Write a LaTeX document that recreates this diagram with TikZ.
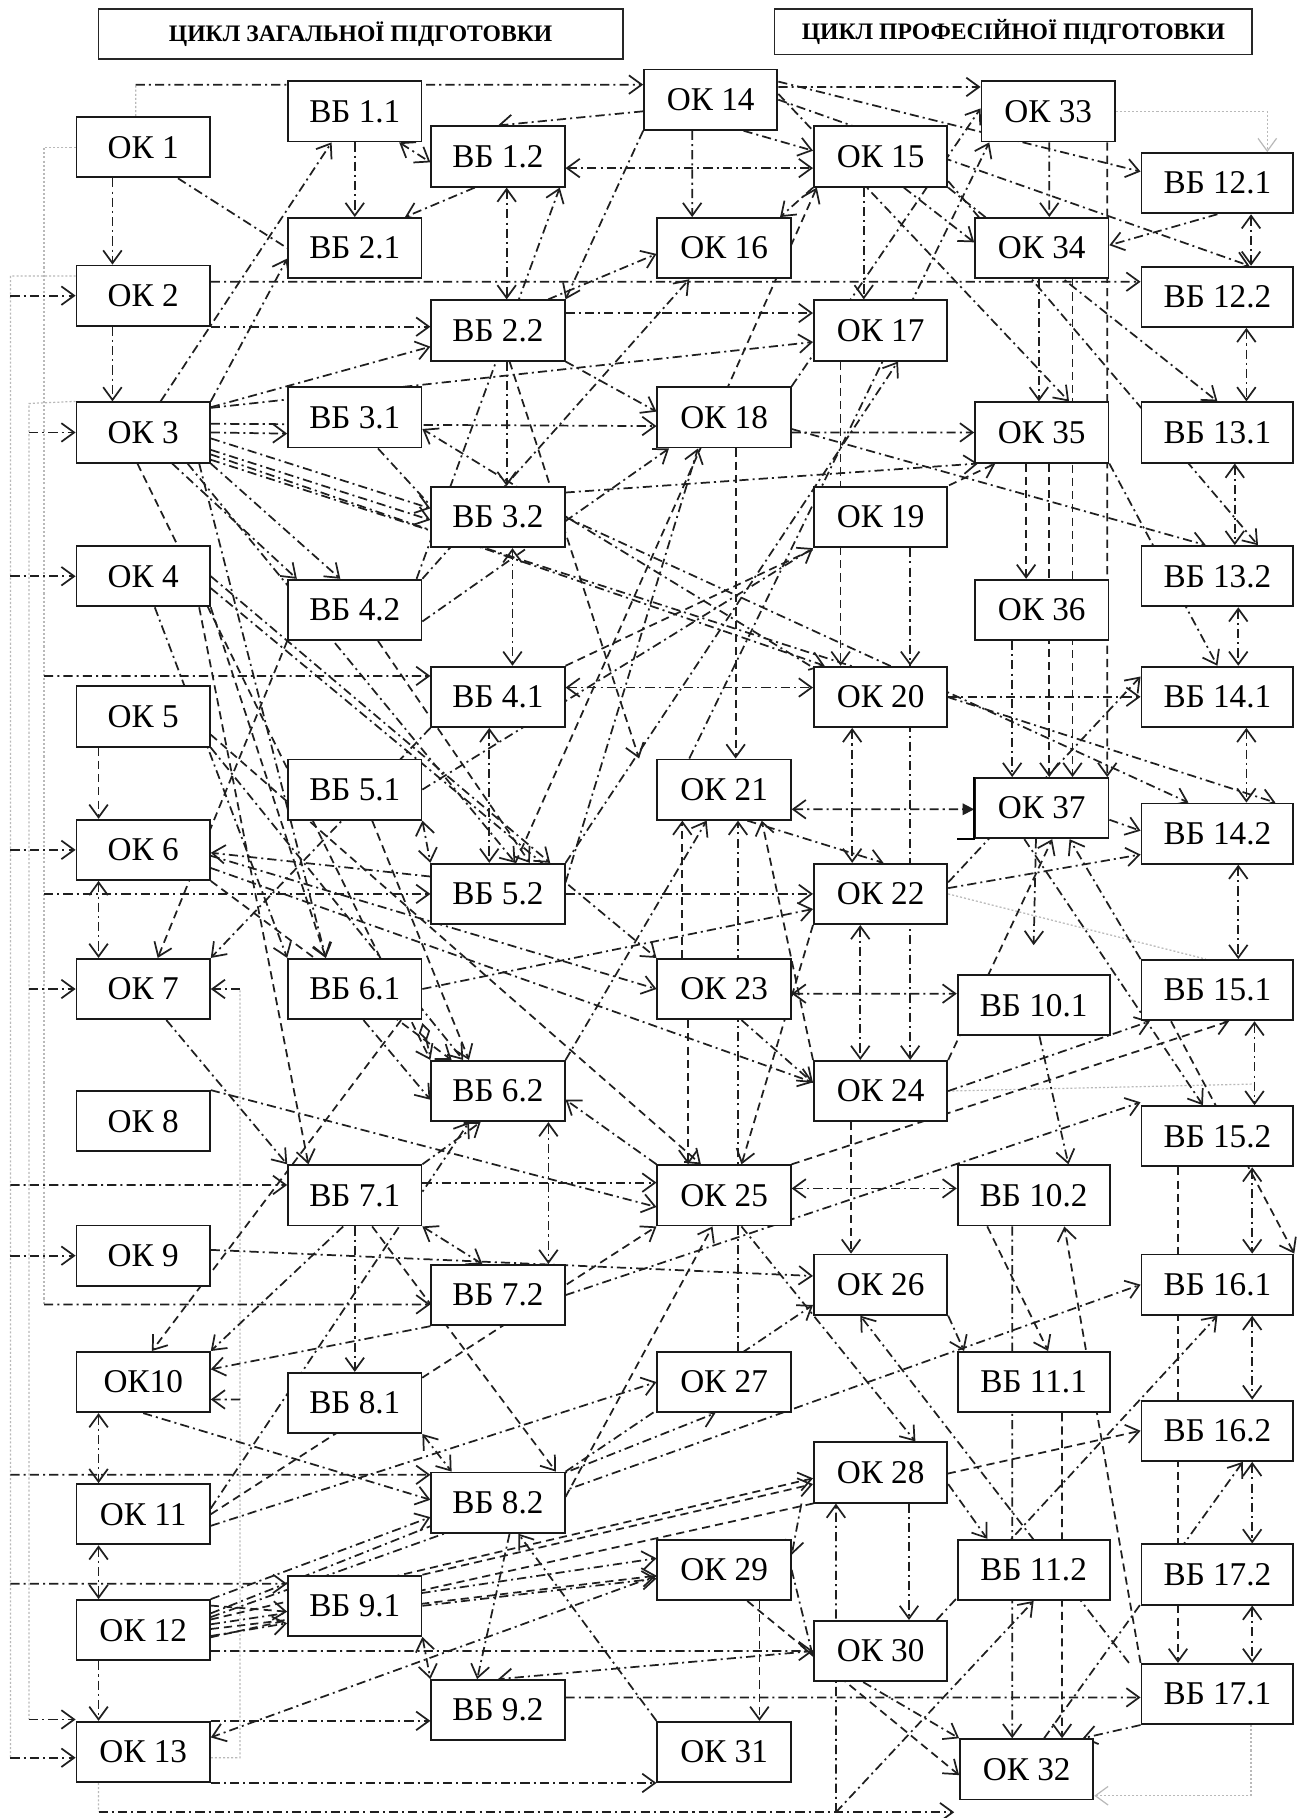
\documentclass[tikz,border=0pt]{standalone}
\usepackage{fontspec}
\setmainfont{Liberation Serif}
\usetikzlibrary{arrows.meta,calc,backgrounds}

\begin{document}
\begin{tikzpicture}[
    x=0.2mm, y=-0.2mm,
    >={Straight Barb[length=2.2mm,width=3.2mm]},
    box/.style={draw=black!90, line width=0.9pt, fill=white, minimum width=23mm,
                minimum height=10.4mm, inner sep=0pt, font=\fontsize{16.3}{18}\selectfont},
    wbox/.style={box, minimum width=26.2mm},
    head/.style={draw=black!85, line width=0.9pt, inner sep=0pt,
                 font=\fontsize{11.6}{13}\selectfont\bfseries},
    lk/.style={->, black!88, line width=0.85pt, dash pattern=on 4.5pt off 2pt on 1pt off 2pt},
    lkb/.style={lk, <->},
    lkn/.style={lk, -},
    dk/.style={lk, dash pattern=on 4pt off 2.5pt},
    dkb/.style={dk, <->},
    gk/.style={gray!55, line width=0.6pt, dash pattern=on 1pt off 1pt},
    gka/.style={gk, ->},
]
    \useasboundingbox (0,0) rectangle (1120,1568);

    % ============================================================
    %  HEADERS
    % ============================================================
    \node[head, minimum width=90.4mm, minimum height=8.6mm] (hz) at (311,29.5)
        {ЦИКЛ ЗАГАЛЬНОЇ ПІДГОТОВКИ};
    \node[head, minimum width=82.4mm, minimum height=7.8mm] (hp) at (874,27.5)
        {ЦИКЛ ПРОФЕСІЙНОЇ ПІДГОТОВКИ};

    % ============================================================
    %  NODES
    % ============================================================
    % column 1
    \node[box] (ok1)  at (123.5,127)  {ОК 1};
    \node[box] (ok2)  at (123.5,255)  {ОК 2};
    \node[box] (ok3)  at (123.5,373)  {ОК 3};
    \node[box] (ok4)  at (123.5,497)  {ОК 4};
    \node[box] (ok5)  at (123.5,618)  {ОК 5};
    \node[box] (ok6)  at (123.5,733)  {ОК 6};
    \node[box] (ok7)  at (123.5,853)  {ОК 7};
    \node[box] (ok8)  at (123.5,967)  {ОК 8};
    \node[box] (ok9)  at (123.5,1083) {ОК 9};
    \node[box] (ok10) at (123.5,1192) {ОК10};
    \node[box] (ok11) at (123.5,1306) {ОК 11};
    \node[box] (ok12) at (123.5,1406) {ОК 12};
    \node[box] (ok13) at (123.5,1511) {ОК 13};
    % column 2
    \node[box] (vb11) at (306,96)   {ВБ 1.1};
    \node[box] (vb21) at (306,214)  {ВБ 2.1};
    \node[box] (vb31) at (306,360)  {ВБ 3.1};
    \node[box] (vb42) at (306,526)  {ВБ 4.2};
    \node[box] (vb51) at (306,681)  {ВБ 5.1};
    \node[box] (vb61) at (306,853)  {ВБ 6.1};
    \node[box] (vb71) at (306,1031) {ВБ 7.1};
    \node[box] (vb81) at (306,1210) {ВБ 8.1};
    \node[box] (vb91) at (306,1385) {ВБ 9.1};
    % column 3
    \node[box] (vb12) at (429.5,135)  {ВБ 1.2};
    \node[box] (vb22) at (429.5,285)  {ВБ 2.2};
    \node[box] (vb32) at (429.5,446)  {ВБ 3.2};
    \node[box] (vb41) at (429.5,601)  {ВБ 4.1};
    \node[box] (vb52) at (429.5,771)  {ВБ 5.2};
    \node[box] (vb62) at (429.5,941)  {ВБ 6.2};
    \node[box] (vb72) at (429.5,1117) {ВБ 7.2};
    \node[box] (vb82) at (429.5,1296) {ВБ 8.2};
    \node[box] (vb92) at (429.5,1475) {ВБ 9.2};
    % column 4
    \node[box] (ok14) at (613,86)     {ОК 14};
    \node[box] (ok16) at (624.5,214)  {ОК 16};
    \node[box] (ok18) at (624.5,360)  {ОК 18};
    \node[box] (ok21) at (624.5,681)  {ОК 21};
    \node[box] (ok23) at (624.5,853)  {ОК 23};
    \node[box] (ok25) at (624.5,1031) {ОК 25};
    \node[box] (ok27) at (624.5,1192) {ОК 27};
    \node[box] (ok29) at (624.5,1354) {ОК 29};
    \node[box] (ok31) at (624.5,1511) {ОК 31};
    % column 5
    \node[box] (ok15) at (759.5,135)  {ОК 15};
    \node[box] (ok17) at (759.5,285)  {ОК 17};
    \node[box] (ok19) at (759.5,446)  {ОК 19};
    \node[box] (ok20) at (759.5,601)  {ОК 20};
    \node[box] (ok22) at (759.5,771)  {ОК 22};
    \node[box] (ok24) at (759.5,941)  {ОК 24};
    \node[box] (ok26) at (759.5,1108) {ОК 26};
    \node[box] (ok28) at (759.5,1270) {ОК 28};
    \node[box] (ok30) at (759.5,1424) {ОК 30};
    % column 6
    \node[box]  (ok33)  at (904,96)     {ОК 33};
    \node[box]  (ok34)  at (898.5,214)  {ОК 34};
    \node[box]  (ok35)  at (898.5,373)  {ОК 35};
    \node[box]  (ok36)  at (898.5,526)  {ОК 36};
    \node[box]  (ok37)  at (898.5,697)  {ОК 37};
    \node[wbox] (vb101) at (891.5,867)  {ВБ 10.1};
    \node[wbox] (vb102) at (891.5,1031) {ВБ 10.2};
    \node[wbox] (vb111) at (891.5,1192) {ВБ 11.1};
    \node[wbox] (vb112) at (891.5,1354) {ВБ 11.2};
    \node[box]  (ok32)  at (885.5,1526) {ОК 32};
    % column 7
    \node[wbox] (vb121) at (1050,158)  {ВБ 12.1};
    \node[wbox] (vb122) at (1050,256)  {ВБ 12.2};
    \node[wbox] (vb131) at (1050,373)  {ВБ 13.1};
    \node[wbox] (vb132) at (1050,497)  {ВБ 13.2};
    \node[wbox] (vb141) at (1050,601)  {ВБ 14.1};
    \node[wbox] (vb142) at (1050,719)  {ВБ 14.2};
    \node[wbox] (vb151) at (1050,854)  {ВБ 15.1};
    \node[wbox] (vb152) at (1050,980)  {ВБ 15.2};
    \node[wbox] (vb161) at (1050,1108) {ВБ 16.1};
    \node[wbox] (vb162) at (1050,1234) {ВБ 16.2};
    \node[wbox] (vb172) at (1050,1358) {ВБ 17.2};
    \node[wbox] (vb171) at (1050,1461) {ВБ 17.1};

    \draw[line width=1.2pt] (ok37.north west) -- (ok37.south west) -- ++(-15,0);

    % rail and junction points
    \coordinate (ra1) at (9,238);   \coordinate (ra2) at (9,1516);
    \coordinate (rb1) at (25,348);  \coordinate (rb2) at (25,1483);
    \coordinate (rc1) at (38,127);  \coordinate (rc2) at (38,1125);
    \coordinate (rd1) at (207,1516); \coordinate (rd2) at (207,853);
    \coordinate (rd3) at (207,1207);
    \coordinate (s2) at (9,255);   \coordinate (s3) at (25,373);
    \coordinate (s4) at (9,497);   \coordinate (s6) at (9,733);
    \coordinate (s7) at (25,853);  \coordinate (s9) at (9,1083);
    \coordinate (s41) at (38,583); \coordinate (s52) at (38,771);
    \coordinate (s71) at (9,1022); \coordinate (s82) at (9,1272);
    \coordinate (s91) at (9,1366);
    \coordinate (tc) at (117,73);
    \coordinate (bl) at (85,1563); \coordinate (bj) at (721,1563);
    \coordinate (be) at (823,1563);
    \coordinate (gj) at (1080,935);

    \begin{scope}[on background layer]
    \fill[white] (0,0) rectangle (1120,1568);

    % ============================================================
    %  FRAME LINES (grey dotted rails on the left, side routes)
    % ============================================================
    \draw[gk] ([yshift=3.4mm]ok2.west) -- (ra1) -- (ra2);
    \draw[gk] (ok3.north west) -- (rb1) -- (rb2);
    \draw[gk] (ok1.west) -- (rc1) -- (rc2);
    \draw[gk] ([yshift=-1mm]ok13.east) -- (rd1) -- (rd2);
    \draw[lk] (rd2) -- (ok7.east);
    \draw[lk] (rd3) -- ([yshift=-3mm]ok10.east);
    \draw[lk] (ra2) -- (ra2 -| ok13.west);
    \draw[lk] (rb2) -- (rb2 -| ok13.west);

    \draw[lk] (s2) -- (ok2.west);
    \draw[lk] (s3) -- (ok3.west);
    \draw[lk] (s4) -- (ok4.west);
    \draw[lk] (s6) -- (ok6.west);
    \draw[lk] (s7) -- (ok7.west);
    \draw[lk] (s9) -- (ok9.west);
    \draw[lk] (s41) -- ([yshift=3.6mm]vb41.west);
    \draw[lk] (s52) -- (vb52.west);
    \draw[lk] (s71) -- ([yshift=1.8mm]vb71.west);
    \draw[lk] (rc2) -- ([yshift=-1.6mm]vb72.west);
    \draw[lk] (s82) -- ([yshift=4.8mm]vb82.west);
    \draw[lk] (s91) -- ([yshift=3.8mm]vb91.west);

    \draw[gk] ([xshift=-1.3mm]ok1.north) -- (tc);
    \draw[lk] (tc) -- ([yshift=2.6mm]ok14.west);
    \draw[gk] ([xshift=-7.7mm]ok13.south) -- (bl);
    \draw[lk] (bl) -- (be);
    \draw[lk] (bj) -- ([xshift=-7.7mm]ok28.south);
    \draw[lk] (bj) -- (vb112.south);
    \draw[gka] ([xshift=5.8mm]vb171.south) |- ([yshift=0.8mm]ok32.south east);
    \draw[gka] (ok33.east) -| ([xshift=8.6mm]vb121.north);
    \draw[gk] (ok22.east) -- ([xshift=-2mm]vb151.north);
    \draw[gk] (ok24.east) -- (gj);

    % ============================================================
    %  VERTICAL LINKS
    % ============================================================
    \draw[lk]  ([xshift=-5.3mm]ok1.south) -- ([xshift=-5.3mm]ok2.north);
    \draw[lk]  ([xshift=-5.3mm]ok2.south) -- ([xshift=-5.3mm]ok3.north);
    \draw[dk]  ([xshift=-7.7mm]ok5.south) -- ([xshift=-7.7mm]ok6.north);
    \draw[lkb] ([xshift=-7.7mm]ok6.south) -- ([xshift=-7.7mm]ok7.north);
    \draw[lkb] ([xshift=-7.7mm]ok10.south) -- ([xshift=-7.7mm]ok11.north);
    \draw[lkb] ([xshift=-7.7mm]ok11.south) -- ([xshift=-7.7mm]ok12.north);
    \draw[lk]  ([xshift=-7.7mm]ok12.south) -- ([xshift=-7.7mm]ok13.north);

    \draw[lk]  (vb11.south) -- (vb21.north);
    \draw[lk]  (vb71.south) -- (vb81.north);
    \draw[lkb] ([xshift=1.5mm]vb12.south) -- ([xshift=1.5mm]vb22.north);
    \draw[lk]  ([xshift=1.5mm]vb22.south) -- ([xshift=1.5mm]vb32.north);
    \draw[lkb] ([xshift=2.5mm]vb32.south) -- ([xshift=2.5mm]vb41.north);
    \draw[lkb] ([xshift=-1.5mm]vb41.south) -- ([xshift=-1.5mm]vb52.north);
    \draw[lkb] ([xshift=8.7mm]vb62.south) -- ([xshift=8.7mm]vb72.north);

    \draw[lk]  ([xshift=-3.2mm]ok14.south) -- ([xshift=-5.5mm]ok16.north);
    \draw[lk]  ([xshift=-2.9mm]ok15.south) -- ([xshift=-2.9mm]ok17.north);
    \draw[dk]  ([xshift=-6.9mm]ok17.south) -- ([xshift=-6.9mm]ok20.north);
    \draw[lk]  ([xshift=5.1mm]ok19.south) -- ([xshift=5.1mm]ok20.north);
    \draw[lk]  ([xshift=5.1mm]ok19.south) -- ([xshift=5.1mm]ok24.north);
    \draw[dk]  ([xshift=2mm]ok18.south) -- ([xshift=2mm]ok21.north);
    \draw[lk]  ([xshift=2.4mm]ok27.north) -- ([xshift=2.4mm]ok21.south);
    \draw[dk]  ([xshift=-7.2mm]ok23.north) -- ([xshift=-7.2mm]ok21.south);
    \draw[dk]  ([xshift=-6.2mm]ok23.south) -- ([xshift=-6.2mm]ok25.north);
    \draw[lkb] ([xshift=-4.9mm]ok20.south) -- ([xshift=-4.9mm]ok22.north);
    \draw[lkb] ([xshift=-3.5mm]ok22.south) -- ([xshift=-3.5mm]ok24.north);
    \draw[dk]  ([xshift=-5.1mm]ok24.south) -- ([xshift=-5.1mm]ok26.north);
    \draw[lk]  ([xshift=4.9mm]ok28.south) -- ([xshift=4.9mm]ok30.north);
    \draw[dk]  ([xshift=6.1mm]ok29.south) -- ([xshift=6.1mm]ok31.north);

    \draw[lk]  ([xshift=0.2mm]ok33.south) -- ([xshift=1.3mm]ok34.north);
    \draw[dk]  ([xshift=10.2mm]ok33.south) -- ([xshift=11.3mm]ok37.north);
    \draw[lk]  ([xshift=-0.5mm]ok34.south) -- ([xshift=-0.5mm]ok35.north);
    \draw[dk]  ([xshift=5.3mm]ok34.south) -- ([xshift=5.3mm]ok37.north);
    \draw[dk]  ([xshift=-2.7mm]ok35.south) -- ([xshift=-2.7mm]ok36.north);
    \draw[dk]  ([xshift=1.3mm]ok35.south) -- ([xshift=1.3mm]ok37.north);
    \draw[lk]  ([xshift=-5.1mm]ok36.south) -- ([xshift=-5.1mm]ok37.north);
    \draw[lk]  ([xshift=-3.7mm]vb102.south) -- ([xshift=-2.5mm]ok32.north);
    \draw[dk]  ([xshift=4.9mm]vb111.south) -- ([xshift=6.1mm]ok32.north);
    \draw[lk]  ([xshift=1mm]vb101.south) -- ([xshift=6mm]vb102.north);
    \draw[dk]  ([xshift=-6.8mm]vb152.south) -- ([xshift=-6.8mm]vb171.north);

    \draw[lkb] ([xshift=5.8mm]vb121.south) -- ([xshift=5.8mm]vb122.north);
    \draw[lkb] ([xshift=5mm]vb122.south) -- ([xshift=5mm]vb131.north);
    \draw[lkb] ([xshift=3mm]vb131.south) -- ([xshift=3mm]vb132.north);
    \draw[lkb] ([xshift=3.6mm]vb132.south) -- ([xshift=3.6mm]vb141.north);
    \draw[lkb] ([xshift=5mm]vb141.south) -- ([xshift=5mm]vb142.north);
    \draw[lkb] ([xshift=3.6mm]vb142.south) -- ([xshift=3.6mm]vb151.north);
    \draw[lkb] ([xshift=6.4mm]vb151.south) -- ([xshift=6.4mm]vb152.north);
    \draw[lkb] ([xshift=6mm]vb152.south) -- ([xshift=6mm]vb161.north);
    \draw[lkb] ([xshift=6mm]vb161.south) -- ([xshift=6mm]vb162.north);
    \draw[lkb] ([xshift=6mm]vb162.south) -- ([xshift=6mm]vb172.north);
    \draw[lkb] ([xshift=6mm]vb172.south) -- ([xshift=6mm]vb171.north);

    % ============================================================
    %  HORIZONTAL LINKS
    % ============================================================
    \draw[lk]  ([yshift=2.2mm]ok14.east) -- ([yshift=4.2mm]ok33.west);
    \draw[lkb] ([yshift=-2mm]vb12.east) -- ([yshift=-2mm]ok15.west);
    \draw[lk]  ([yshift=2.4mm]ok2.east) -- ([yshift=2.6mm]vb122.west);
    \draw[lk]  (ok2.south east) -- (ok2.south east -| vb22.west);
    \draw[lk]  ([yshift=3mm]vb22.east) -- ([yshift=3mm]ok17.west);
    \draw[lk]  (ok3.east) -- ([yshift=-2.8mm]vb31.west);
    \draw[lk]  ([yshift=-2.6mm]ok18.east) -- (ok35.west);
    \draw[lkb] ([yshift=1.6mm]vb41.east) -- ([yshift=1.6mm]ok20.west);
    \draw[lk]  (vb52.east) -- (ok22.west);
    \draw[lkb, {Straight Barb[length=2.2mm,width=3.2mm]}-{Triangle[length=2mm,width=2mm]}]
        ([yshift=-3.4mm]ok21.east) -- ([yshift=-0.2mm]ok37.west);
    \draw[lkb] ([yshift=-0.8mm]ok23.east) -- ([yshift=2mm]vb101.west);
    \draw[lkb] ([yshift=1.2mm]ok25.east) -- ([yshift=1.2mm]vb102.west);
    \draw[lk]  ([yshift=2.2mm]vb71.east) -- ([yshift=2.2mm]ok25.west);
    \draw[lk]  (ok13.north east) -- (ok13.north east -| vb92.west);
    \draw[lk]  (ok13.south east) -- (ok31.south west);
    \draw[lk]  ([yshift=2.2mm]vb92.east) -- ([yshift=-0.6mm]vb171.west);
    \draw[lk]  ([yshift=-3.6mm]ok12.east) -- (ok30.west);
    \draw[lk]  (ok20.east) -- (vb141.west);

    % ============================================================
    %  DIAGONAL LINKS
    % ============================================================
    % top rows
    \draw[lk]  ([yshift=-2mm]ok14.west) -- (vb12.north);
    \draw[lkb] ([xshift=-4mm]vb11.south east) -- ([yshift=-1mm]vb12.west);
    \draw[lkn] ([xshift=6mm]ok1.south) -- (vb21.west);
    \draw[lk]  ([xshift=-4mm]vb12.south) -- ([xshift=-3mm]vb21.north east);
    \draw[lk]  ([xshift=-1mm]vb42.north east) -- ([xshift=-1mm]vb12.south east);
    \draw[lk]  ([xshift=-6mm]ok14.south east) -- ([yshift=1mm]ok15.west);
    \draw[lk]  (ok15.south west) -- ([xshift=-2mm]ok16.north east);
    \draw[lk]  (ok14.15) -- ([yshift=2mm]vb121.west);
    \draw[lk]  (ok14.east) -- ([xshift=5.5mm]vb122.north);
    \draw[lk]  ([yshift=1mm]ok14.east) -- ([xshift=4.7mm]ok35.north);
    \draw[lk]  (ok14.south west) -- (vb22.north east);
    \draw[lk]  (vb121.south) -- ([yshift=0.5mm]ok34.east);
    \draw[lk]  ([xshift=4mm]ok15.south) -- ([yshift=1mm]ok34.west);
    \draw[lk]  (ok15.south east) -- (vb131.north);
    \draw[lk]  (ok15.-20) -- ([xshift=7mm]vb132.north);
    \draw[lk]  ([xshift=-6mm]ok21.north) -- ([xshift=1.5mm]ok33.south west);
    \draw[lk]  (ok18.north east) -- ([yshift=0.5mm]ok33.west);

    % from OK 3
    \draw[lk]  ([xshift=3mm]ok3.north) -- ([xshift=-4mm]vb11.south);
    \draw[lk]  (ok3.north east) -- ([yshift=-1.8mm]vb21.west);
    \draw[lk]  ([yshift=-1mm]ok3.north east) -- ([yshift=-2.8mm]vb22.west);
    \draw[lk]  (ok3.20) -- ([yshift=-2mm]ok17.west);
    \draw[lk]  ([yshift=1.5mm]ok3.east) -- ([yshift=-1.5mm]ok18.west);
    \draw[lk]  (ok3.-5) -- ([yshift=1.5mm]vb32.west);
    \draw[lk]  ([yshift=-3mm]ok3.east) -- ([yshift=-0.5mm]vb32.west);
    \draw[lk]  ([xshift=5mm]ok3.south) -- ([xshift=-10mm]vb42.north);
    \draw[lk]  (ok3.south east) -- ([xshift=-2.5mm]vb42.north);
    \draw[lk]  (ok3.-18) -- ([xshift=2mm]ok20.north west);
    \draw[lk]  (ok3.-22) -- ([xshift=10mm]vb142.north);
    \draw[lk]  ([xshift=-2mm]ok3.south east) -- ([xshift=-5mm]vb61.north);
    \draw[lk]  ([xshift=-4mm]ok3.south east) -- ([xshift=3mm]vb52.north);
    \draw[dk]  ([xshift=-1mm]ok3.south) -- (vb62.north west);

    % OK 4 .. OK 9
    \draw[lk]  (ok4.east) -- ([xshift=9mm]vb52.north);
    \draw[dk]  (ok4.south east) -- ([xshift=-5mm]vb61.north);
    \draw[lk]  ([xshift=2mm]ok4.south) -- (vb61.north west);
    \draw[dk]  ([xshift=-2mm]ok4.south east) -- ([xshift=-8mm]vb71.north);
    \draw[lk]  (ok4.-10) -- (ok23.north west);
    \draw[lk]  (ok5.south east) -- ([xshift=-6mm]vb62.north);
    \draw[dk]  (ok5.-15) -- ([xshift=-4mm]ok25.north);
    \draw[lk]  ([yshift=3mm]vb52.west) -- ([yshift=-0.5mm]ok6.east);
    \draw[lk]  (ok6.-15) -- ([yshift=1.5mm]ok24.west);
    \draw[dk]  (ok6.south east) -- ([xshift=-8mm]vb62.north);
    \draw[lk]  (ok6.-5) -- (ok23.west);
    \draw[dk]  (vb42.south west) -- ([xshift=2.5mm]ok7.north);
    \draw[lk]  (vb41.south west) -- (ok7.north east);
    \draw[lk]  ([xshift=4mm]ok7.south) -- (vb71.north west);
    \draw[lk]  (ok8.north east) -- ([yshift=-2mm]ok25.west);
    \draw[lk]  ([yshift=1mm]ok9.east) -- ([yshift=1.5mm]ok26.west);

    % OK 10 .. OK 13
    \draw[dk]  ([xshift=8mm]vb61.south) -- ([xshift=1.5mm]ok10.north);
    \draw[lk]  ([xshift=-2mm]vb71.south) -- (ok10.north east);
    \draw[lk]  (vb72.south west) -- ([yshift=2.2mm]ok10.east);
    \draw[lk]  (ok10.south) -- ([yshift=0.5mm]vb82.west);
    \draw[lk]  ([yshift=1mm]ok11.east) -- ([xshift=-5mm]vb62.south);
    \draw[dk]  (ok11.east) -- (ok25.south west);
    \draw[lk]  ([yshift=-2mm]ok11.east) -- (ok27.west);
    \draw[lk]  (ok12.north east) -- ([yshift=-2.5mm]vb82.west);
    \draw[dk]  (ok12.20) -- ([yshift=-1mm]vb91.west);
    \draw[lk]  ([yshift=-1mm]ok12.east) -- ([yshift=-3mm]vb91.west);
    \draw[lk]  (ok12.14) -- ([xshift=-1.5mm]ok27.south);
    \draw[dk]  (ok12.9) -- ([yshift=-1mm]ok28.west);
    \draw[lk]  (ok12.5) -- ([yshift=2mm]ok29.west);
    \draw[dk]  (ok12.1) -- ([yshift=-1mm]ok29.west);
    \draw[lk]  (ok12.11) -- (vb161.west);
    \draw[dk]  (ok12.-6) -- (vb162.west);
    \draw[lk]  ([yshift=-1mm]ok29.west) -- ([yshift=2.5mm]ok13.east);

    % column 2 / 3 internals
    \draw[lkn] ([xshift=4mm]vb31.south) -- ([yshift=2mm]vb32.west);
    \draw[lk]  ([xshift=-0.5mm]ok20.north west) -- ([yshift=-2mm]vb31.east);
    \draw[lk]  (vb42.north east) -- ([xshift=-6mm]ok16.south);
    \draw[lk]  ([yshift=-2mm]vb42.east) -- ([xshift=-9.5mm]ok18.south);
    \draw[dk]  ([xshift=4mm]vb42.south) -- ([xshift=5.5mm]vb52.north);
    \draw[lkb] (vb51.south east) -- (vb52.north west);
    \draw[dk]  ([xshift=3mm]vb51.south) -- ([xshift=-5mm]vb62.north);
    \draw[lk]  (vb51.east) -- (ok19.south west);
    \draw[lk]  ([yshift=2mm]vb52.east) -- ([xshift=-4.5mm]ok18.south);
    \draw[dk]  ([xshift=3mm]vb52.north) -- ([xshift=-11mm]ok15.south);
    \draw[lk]  (vb52.north east) -- ([xshift=3mm]ok17.south);
    \draw[lk]  ([xshift=1.5mm]vb61.south) -- ([yshift=-1.5mm]vb62.west);
    \draw[lkn, {Diamond[open,length=3.2mm,width=2mm]}-]
        ([yshift=-0.5mm]vb61.south east) -- ([yshift=0.5mm]vb62.north west);
    \draw[lk]  (vb61.east) -- ([yshift=-2.6mm]ok22.west);
    \draw[lk]  (vb71.north east) -- ([xshift=-3mm]vb62.south);
    \draw[lk]  (ok25.north west) -- ([yshift=-1.5mm]vb62.east);
    \draw[lkb] (vb71.south east) -- ([xshift=-2.7mm]vb72.north);
    \draw[lkb] (vb81.south east) -- ([xshift=-8mm]vb82.north);
    \draw[dk]  ([xshift=3mm]vb71.south) -- ([xshift=10mm]vb82.north);
    \draw[lk]  ([xshift=2mm]vb82.south) -- ([xshift=-3.6mm]vb92.north);
    \draw[lk]  (ok31.north west) -- ([xshift=3.5mm]vb82.south);
    \draw[lkb] (vb91.south east) -- (vb92.north west);
    \draw[lk]  (ok30.west) -- (vb92.north);
    \draw[lk]  (vb91.east) -- ([yshift=-1.5mm]ok29.west);
    \draw[dk]  (vb91.north east) -- ([yshift=-2mm]ok28.west);
    \draw[lk]  (vb82.north east) -- ([yshift=-3.5mm]ok26.west);
    \draw[dk]  ([yshift=1mm]vb82.east) -- ([xshift=-2mm]ok25.south);

    % column 4 / 5 internals
    \draw[lk]  ([xshift=-3mm]vb22.north east) -- ([yshift=-1mm]ok16.west);
    \draw[lk]  (vb22.south east) -- ([yshift=1mm]ok18.west);
    \draw[dk]  ([xshift=2mm]vb22.south) -- ([xshift=-3mm]ok21.north west);
    \draw[lk]  ([yshift=-2mm]ok18.east) -- ([xshift=-2mm]vb132.north);
    \draw[lk]  (vb32.20) -- ([xshift=-11mm]ok35.south);
    \draw[dk]  (vb41.north east) -- ([xshift=-8mm]ok35.south);
    \draw[lk]  (vb32.east) -- ([xshift=-5mm]vb142.north);
    \draw[lk]  ([xshift=4mm]ok21.south) -- ([xshift=0.5mm]ok22.north);
    \draw[lk]  (vb62.north east) -- ([xshift=-3mm]ok21.south);
    \draw[dk]  (ok24.north west) -- ([xshift=6.5mm]ok21.south);
    \draw[lk]  ([xshift=3mm]ok23.south) -- ([yshift=1.4mm]ok24.west);
    \draw[dk]  (ok22.south west) -- ([xshift=3mm]ok25.north);
    \draw[lk]  ([xshift=3mm]ok25.south) -- ([xshift=6mm]ok28.north);
    \draw[lk]  (ok26.south east) -- ([xshift=-12mm]vb111.north);
    \draw[dk]  ([xshift=-8mm]vb102.south) -- ([xshift=2.5mm]vb111.north);
    \draw[lk]  ([yshift=-2mm]ok28.east) -- ([xshift=-8mm]vb112.north);
    \draw[lk]  ([xshift=-2mm]ok28.south west) -- ([yshift=2.6mm]ok29.east);
    \draw[dk]  ([xshift=4mm]ok29.south) -- ([yshift=-1mm]ok32.west);
    \draw[lk]  ([xshift=-3mm]ok30.south) -- (ok32.north west);
    \draw[lk]  (ok29.east) -- ([yshift=-1mm]ok30.west);
    \draw[lk]  ([xshift=-2mm]vb171.north west) -- ([xshift=-3.5mm]ok26.south);
    \draw[dk]  (vb171.north west) -- ([xshift=5.3mm]vb102.south);
    \draw[lk]  (vb171.south west) -- ([xshift=-2mm]ok32.north east);
    \draw[lk]  ([xshift=3mm]ok32.north) -- ([xshift=4.4mm]vb162.south);

    % right columns
    \draw[lk]  (ok35.south east) -- (vb141.north);
    \draw[lk]  ([yshift=2mm]ok22.east) -- ([yshift=3.5mm]vb141.west);
    \draw[lk]  ([yshift=-2mm]ok37.east) -- ([yshift=0.5mm]vb142.west);
    \draw[lk]  ([yshift=1mm]ok22.east) -- ([yshift=-3.6mm]vb142.west);
    \draw[lk]  ([xshift=-1mm]ok37.south) -- ([yshift=5mm]vb101.north);
    \draw[lk]  (vb151.north west) -- ([xshift=4.8mm]ok37.south);
    \draw[dk]  (ok24.north east) -- ([xshift=1.8mm]ok37.south);
    \draw[lk]  ([xshift=-3mm]ok37.south) -- ([xshift=-2.5mm]vb152.north);
    \draw[lk]  (ok24.east) -- ([xshift=1.6mm]vb151.south west);
    \draw[dk]  (ok25.north east) -- ([xshift=2mm]vb151.south);
    \draw[lk]  (vb72.east) -- ([yshift=0.5mm]vb152.north west);
    \draw[dk]  ([xshift=-8mm]vb151.south) -- (vb161.north east);
    \draw[lk]  ([xshift=-2mm]ok30.north east) -- (vb161.south);
    \end{scope}

\end{tikzpicture}
\end{document}
